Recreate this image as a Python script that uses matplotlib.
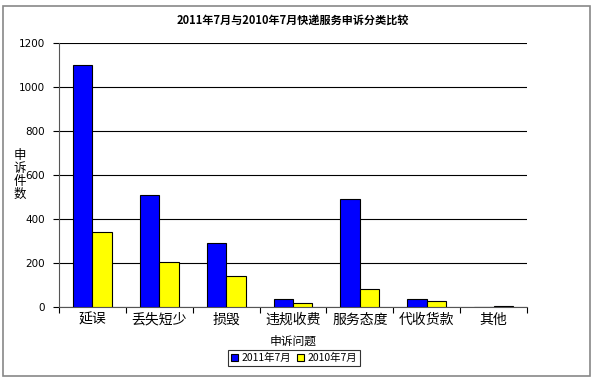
import matplotlib
matplotlib.use("Agg")
import matplotlib.pyplot as plt
import numpy as np
from matplotlib.patches import Rectangle

plt.rcParams['font.family'] = ['Noto Sans CJK SC', 'DejaVu Sans']

categories = ["延误", "丢失短少", "损毁", "违规收费", "服务态度", "代收货款", "其他"]
series_2011 = [1100, 510, 290, 36, 490, 36, 2]
series_2010 = [340, 205, 140, 17, 82, 27, 6]
series_names = ["2011年7月", "2010年7月"]
title = "2011年7月与2010年7月快递服务申诉分类比较"
yticks = [0, 200, 400, 600, 800, 1000, 1200]

W, H = 593, 379
fig = plt.figure(figsize=(W/100, H/100), dpi=100)
ax = fig.add_axes([59/W, 1-307/H, (527-59)/W, (307-43)/H])

x = np.arange(len(categories))
bw = 0.29
ax.bar(x - bw/2, series_2011, bw, color="#0000FF", edgecolor="black", linewidth=0.8, label=series_names[0], zorder=3)
ax.bar(x + bw/2, series_2010, bw, color="#FFFF00", edgecolor="black", linewidth=0.8, label=series_names[1], zorder=3)

ax.set_xlim(-0.5, len(categories) - 0.5)
ax.set_ylim(0, 1200)
ax.set_yticks(yticks)
ax.set_yticklabels([str(v) for v in yticks], fontsize=7.5, family=['DejaVu Sans'])
ax.yaxis.grid(True, color="black", linewidth=0.8, zorder=0)
ax.tick_params(axis='y', length=4, width=0.8, pad=6)

ax.set_xticks(np.arange(-0.5, len(categories)), minor=False)
ax.set_xticklabels([])
ax.tick_params(axis='x', which='major', length=4, width=0.8, direction='out')
ax.set_xticks(x, minor=True)
ax.set_xticklabels(categories, minor=True, fontsize=10)
ax.tick_params(axis='x', which='minor', length=0, pad=4)

for s in ['top', 'right']:
    ax.spines[s].set_visible(False)
for s in ['left', 'bottom']:
    ax.spines[s].set_linewidth(0.8)
    ax.spines[s].set_color('#555555')

fig.text(293/W, 1-20/H, title, ha='center', va='center', fontsize=8, fontweight='bold')
fig.text(20/W, 1-175/H, "申\n诉\n件\n数", ha='center', va='center', fontsize=9, linespacing=1.0)
fig.text(293/W, 1-341/H, "申诉问题", ha='center', va='center', fontsize=8.5)

leg = ax.legend(loc='center', bbox_to_anchor=(294/W, 1-358/H), bbox_transform=fig.transFigure,
                ncol=2, fontsize=7.5, frameon=True, fancybox=False, handlelength=0.7, handleheight=0.7,
                handletextpad=0.3, columnspacing=0.6, borderpad=0.3, borderaxespad=0)
leg.get_frame().set_edgecolor('black')
leg.get_frame().set_linewidth(0.8)

fig.patches.append(Rectangle((3/W, 3/H), 587/W, 370/H, transform=fig.transFigure,
                             fill=False, edgecolor='#888888', linewidth=1.2))

fig.savefig("out.png", dpi=100)
